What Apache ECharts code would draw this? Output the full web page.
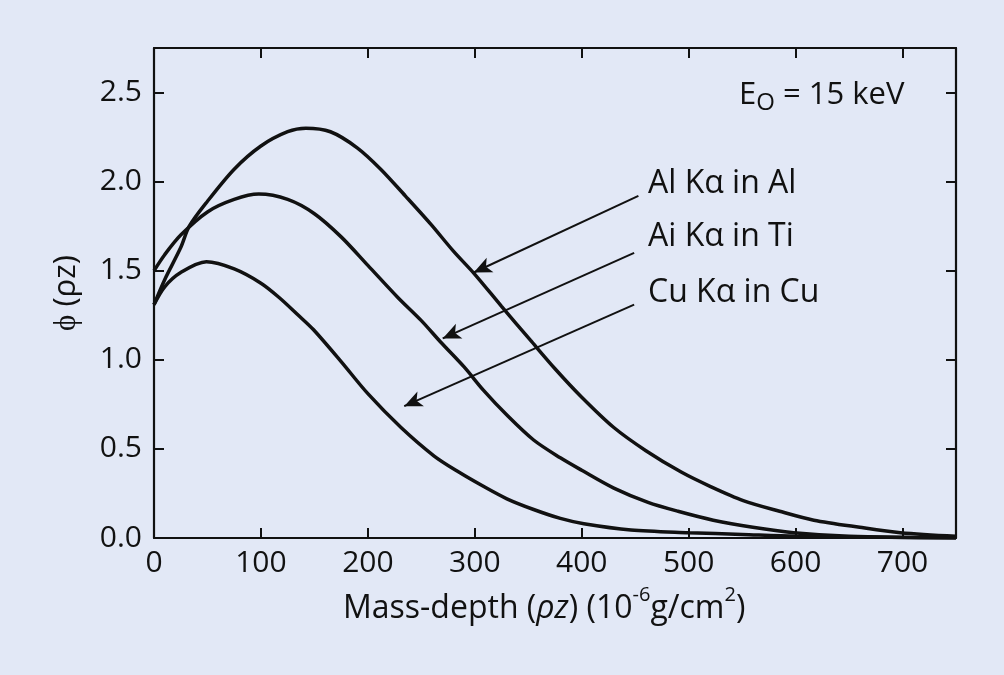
<!DOCTYPE html>
<html>
<head>
<meta charset="utf-8">
<script src="https://cdn.jsdelivr.net/npm/echarts@6/dist/echarts.min.js"></script>
<style>
html,body{margin:0;padding:0;background:#e2e8f6;}
#chart{width:1004px;height:675px;}
</style>
</head>
<body>
<div id="chart"></div>
<script>
// Mass-depth (10^-6 g/cm2) vs phi(rho z)
const alInAl = [[0,1.31],[10,1.45],[25,1.63],[33,1.75],[50,1.89],[75,2.07],[100,2.20],[125,2.28],[142,2.30],[165,2.28],[190,2.19],[212,2.07],[235,1.92],[259,1.76],[280,1.61],[300,1.48],[325,1.30],[352,1.11],[375,0.95],[400,0.79],[430,0.62],[460,0.49],[493,0.37],[520,0.29],[551,0.21],[585,0.15],[617,0.10],[660,0.06],[698,0.03],[750,0.01]];
const alInTi = [[0,1.50],[10,1.59],[25,1.70],[50,1.83],[75,1.90],[98,1.93],[125,1.90],[150,1.82],[175,1.69],[200,1.53],[228,1.35],[250,1.22],[268,1.10],[290,0.96],[308,0.83],[330,0.69],[355,0.55],[380,0.45],[400,0.38],[430,0.28],[462,0.20],[490,0.15],[523,0.10],[560,0.06],[598,0.03],[650,0.01],[750,0.0]];
const cuInCu = [[0,1.31],[10,1.41],[25,1.49],[49,1.55],[75,1.51],[100,1.43],[117,1.35],[135,1.25],[149,1.17],[175,0.99],[200,0.81],[231,0.62],[262,0.46],[285,0.37],[308,0.29],[330,0.22],[355,0.16],[380,0.11],[402,0.08],[446,0.045],[500,0.03],[550,0.02],[600,0.01],[750,0.0]];
const seriesNames = ['Al K\u03b1 in Al','Ai K\u03b1 in Ti','Cu K\u03b1 in Cu'];
// arrows: [start, tip] in data coordinates
const arrows = [
  [[453,1.92],[299,1.49]],
  [[449,1.60],[270,1.12]],
  [[449,1.31],[234,0.74]]
];
const xTicks = {min:0, max:750, interval:100};
const yTicks = {min:0, max:2.75, interval:0.5};

const FONT = 'Open Sans';
const chart = echarts.init(document.getElementById('chart'));
const lineStyle = {color:'#111', width:3.5};
function axisCommon(){
  return {
    axisLine:{show:true, onZero:false, lineStyle:{color:'#111', width:2.2}},
    axisTick:{show:true, inside:true, length:10, lineStyle:{color:'#111', width:2}},
    splitLine:{show:false}
  };
}
function mk(data, i){
  const s = {type:'line', name:seriesNames[i], data:data, smooth:0.3, showSymbol:false, symbol:'none', lineStyle:lineStyle, z:3};
  s.markLine = {
    silent:true, symbol:['none','arrow'], symbolSize:[12,18],
    lineStyle:{color:'#111', width:2, type:'solid'}, label:{show:false},
    data:[[{coord:arrows[i][0]},{coord:arrows[i][1]}]]
  };
  return s;
}
chart.setOption({
  backgroundColor:'#e2e8f6',
  animation:false,
  grid:{left:154, right:48, top:48, bottom:137, containLabel:false},
  textStyle:{fontFamily:FONT},
  xAxis:[
    Object.assign({type:'value', position:'bottom', min:xTicks.min, max:xTicks.max, interval:xTicks.interval,
      axisLabel:{color:'#111', fontSize:30, fontFamily:FONT, margin:10, showMaxLabel:false}
    }, axisCommon()),
    Object.assign({type:'value', position:'top', min:xTicks.min, max:xTicks.max, interval:xTicks.interval,
      axisLabel:{show:false}}, axisCommon())
  ],
  yAxis:[
    Object.assign({type:'value', position:'left', min:yTicks.min, max:yTicks.max, interval:yTicks.interval,
      name:'\u03d5 (\u03c1z)', nameLocation:'middle', nameGap:72, nameRotate:90,
      nameTextStyle:{color:'#111', fontSize:31, fontFamily:FONT},
      axisLabel:{color:'#111', fontSize:30, fontFamily:FONT, margin:12, showMaxLabel:false,
        formatter:v=>v.toFixed(1)}
    }, axisCommon()),
    Object.assign({type:'value', position:'right', min:yTicks.min, max:yTicks.max, interval:yTicks.interval,
      axisLabel:{show:false}}, axisCommon())
  ],
  series:[mk(alInAl,0), mk(alInTi,1), mk(cuInCu,2)],
  graphic:[
    {type:'text', left:343, top:585, style:{
      text:'{a|Mass-depth (}{i|\u03c1z}{a|) (10}{s|-6}{a|g/cm}{s|2}{a|)}',
      rich:{
        a:{fontSize:32, fontFamily:FONT, fill:'#111', verticalAlign:'bottom', lineHeight:40},
        i:{fontSize:32, fontFamily:FONT, fontStyle:'italic', fill:'#111', verticalAlign:'bottom', lineHeight:40},
        s:{fontSize:20, fontFamily:FONT, fill:'#111', verticalAlign:'top', lineHeight:40}
      }}},
    {type:'text', left:739, top:80, style:{
      text:'{a|E}{o|O}{a| = 15 keV}',
      rich:{
        a:{fontSize:31, fontFamily:FONT, fill:'#111', verticalAlign:'bottom', lineHeight:38},
        o:{fontSize:24, fontFamily:FONT, fill:'#111', verticalAlign:'bottom', lineHeight:32, padding:[0,0,-4,0]}
      }}},
    {type:'text', left:648, top:168, style:{text:seriesNames[0], fontSize:32, fontFamily:FONT, fill:'#111'}},
    {type:'text', left:648, top:221, style:{text:seriesNames[1], fontSize:32, fontFamily:FONT, fill:'#111'}},
    {type:'text', left:648, top:277, style:{text:seriesNames[2], fontSize:32, fontFamily:FONT, fill:'#111'}}
  ]
});
</script>
</body>
</html>
